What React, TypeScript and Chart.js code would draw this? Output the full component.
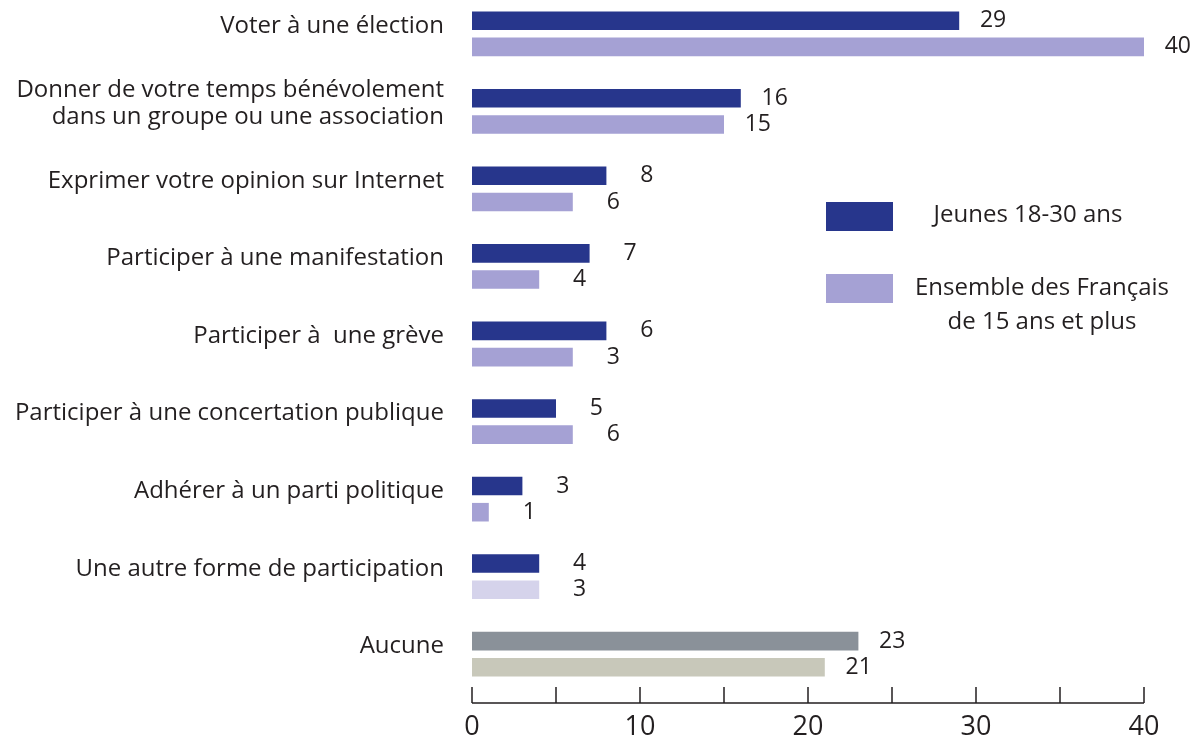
import React, { useEffect, useRef } from "react";
import { Chart, registerables } from "chart.js";

Chart.register(...registerables);

const categories: (string | string[])[] = [
  "Voter à une élection",
  ["Donner de votre temps bénévolement", "dans un groupe ou une association"],
  "Exprimer votre opinion sur Internet",
  "Participer à une manifestation",
  "Participer à  une grève",
  "Participer à une concertation publique",
  "Adhérer à un parti politique",
  "Une autre forme de participation",
  "Aucune",
];

const seriesNames: (string | string[])[] = [
  "Jeunes 18-30 ans",
  ["Ensemble des Français", "de 15 ans et plus"],
];

// bar lengths as drawn
const jeunesValues = [29, 16, 8, 7, 8, 5, 3, 4, 23];
const ensembleValues = [40, 15, 6, 4, 6, 6, 1, 4, 21];

// value labels as printed
const jeunesLabels = ["29", "16", "8", "7", "6", "5", "3", "4", "23"];
const ensembleLabels = ["40", "15", "6", "4", "3", "6", "1", "3", "21"];

const xTickValues = [0, 5, 10, 15, 20, 25, 30, 35, 40];
const xTickLabels = ["0", "10", "20", "30", "40"];

const NAVY = "#27368c";
const LAVENDER = "#a5a1d4";
const PALE = "#d5d3eb";
const GREY = "#8a9199";
const BEIGE = "#c8c8ba";
const TEXT = "#231f20";
const FONT = "'Open Sans', sans-serif";

const jeunesColors = jeunesValues.map((_, i) => (i === 8 ? GREY : NAVY));
const ensembleColors = ensembleValues.map((_, i) =>
  i === 8 ? BEIGE : i === 7 ? PALE : LAVENDER
);

const valueLabelsPlugin = {
  id: "valueLabels",
  afterDatasetsDraw(chart: any) {
    const ctx = chart.ctx;
    const texts = [jeunesLabels, ensembleLabels];
    ctx.save();
    ctx.fillStyle = TEXT;
    ctx.font = `23px ${FONT}`;
    ctx.textAlign = "right";
    ctx.textBaseline = "middle";
    chart.data.datasets.forEach((_: any, di: number) => {
      const meta = chart.getDatasetMeta(di);
      meta.data.forEach((bar: any, i: number) => {
        ctx.fillText(texts[di][i], bar.x + 47, bar.y);
      });
    });
    ctx.restore();
  },
};

const axisPlugin = {
  id: "customAxis",
  afterDraw(chart: any) {
    const ctx = chart.ctx;
    const xs = chart.scales.x;
    const y = chart.chartArea.bottom + 10;
    ctx.save();
    ctx.strokeStyle = TEXT;
    ctx.lineWidth = 1.5;
    ctx.beginPath();
    ctx.moveTo(xs.getPixelForValue(xTickValues[0]), y);
    ctx.lineTo(xs.getPixelForValue(xTickValues[xTickValues.length - 1]), y);
    xTickValues.forEach((v) => {
      const px = xs.getPixelForValue(v);
      ctx.moveTo(px, y);
      ctx.lineTo(px, y - 16);
    });
    ctx.stroke();
    ctx.restore();
  },
};

const legendPlugin = {
  id: "customLegend",
  afterDraw(chart: any) {
    const ctx = chart.ctx;
    const colors = [NAVY, LAVENDER];
    const boxes = [
      { top: 212, textX: 1028, textY: 225 },
      { top: 284, textX: 1042, textY: 298 },
    ];
    ctx.save();
    ctx.font = `24px ${FONT}`;
    ctx.textAlign = "center";
    ctx.textBaseline = "middle";
    seriesNames.forEach((name, i) => {
      const b = boxes[i];
      ctx.fillStyle = colors[i];
      ctx.fillRect(826, b.top, 67, 29);
      ctx.fillStyle = TEXT;
      const lines = Array.isArray(name) ? name : [name];
      lines.forEach((ln, j) => ctx.fillText(ln, b.textX, b.textY + j * 34));
    });
    ctx.restore();
  },
};

export default function App() {
  const ref = useRef<HTMLCanvasElement | null>(null);
  useEffect(() => {
    if (!ref.current) return;
    const chart = new Chart(ref.current, {
      type: "bar",
      data: {
        labels: categories,
        datasets: [
          {
            label: "Jeunes 18-30 ans",
            data: jeunesValues,
            backgroundColor: jeunesColors,
            categoryPercentage: 0.675,
            barPercentage: 0.71,
          },
          {
            label: "Ensemble des Français de 15 ans et plus",
            data: ensembleValues,
            backgroundColor: ensembleColors,
            categoryPercentage: 0.675,
            barPercentage: 0.71,
          },
        ],
      },
      options: {
        indexAxis: "y",
        animation: false,
        responsive: false,
        maintainAspectRatio: false,
        layout: { padding: { top: 5, right: 49, bottom: 0, left: 0 } },
        plugins: {
          legend: { display: false },
          tooltip: { enabled: false },
        },
        scales: {
          x: {
            min: 0,
            max: 40,
            afterBuildTicks(scale: any) {
              scale.ticks = xTickLabels.map((t) => ({ value: Number(t) }));
            },
            afterFit(scale: any) {
              scale.height = 44;
              scale.paddingLeft = 0;
              scale.paddingRight = 0;
            },
            grid: { display: false, drawTicks: false },
            border: { display: false },
            ticks: {
              color: TEXT,
              font: { family: FONT, size: 27 },
              padding: 18,
              maxRotation: 0,
            },
          },
          y: {
            afterFit(scale: any) {
              scale.width = 472;
              scale.paddingTop = 0;
              scale.paddingBottom = 0;
            },
            grid: { display: false, drawTicks: false },
            border: { display: false },
            ticks: {
              color: TEXT,
              font: { family: FONT, size: 24, lineHeight: 1.12 },
              padding: 28,
              labelOffset: -8,
              autoSkip: false,
            },
          },
        },
      },
      plugins: [valueLabelsPlugin, axisPlugin, legendPlugin],
    });
    return () => chart.destroy();
  }, []);
  return (
    <div style={{ position: "absolute", left: 0, top: -10, width: 1193, height: 747 }}>
      <canvas ref={ref} width={1193} height={747} style={{ display: "block" }} />
    </div>
  );
}
